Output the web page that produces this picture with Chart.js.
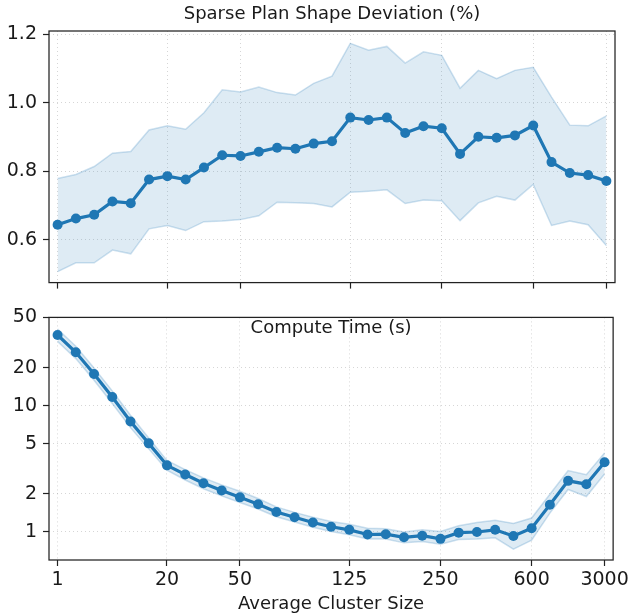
<!DOCTYPE html>
<html>
<head>
<meta charset="utf-8">
<script src="https://cdn.jsdelivr.net/npm/chart.js@4.4.1/dist/chart.umd.min.js"></script>
<style>
	html, body { margin:0; padding:0; background:#fff; }
	#wrap { position:relative; width:632px; height:615px; }
	#wrap canvas { position:absolute; left:0; }
</style>
</head>
<body>
<div id="wrap">
	<canvas id="dev_graph" width="632" height="300" style="top:0"></canvas>
	<canvas id="time_graph" width="632" height="315" style="top:300px"></canvas>
</div>
<script>
// x positions are just the index of each cluster size, labelled only at some of them
const tickIndex = [0, 6, 10, 16, 21, 26, 30]
const tickLabels = ['1', '20', '50', '125', '250', '600', '3000']

// Sparse Plan Shape Deviation (%)
const devMean = [0.644, 0.662, 0.673, 0.712, 0.707, 0.776, 0.786, 0.776, 0.811, 0.847, 0.845, 0.857, 0.869, 0.866, 0.881, 0.888,
	0.957, 0.950, 0.957, 0.912, 0.932, 0.926, 0.851, 0.901, 0.898, 0.905, 0.934, 0.827, 0.795, 0.789, 0.772]
const devLow = [0.507, 0.533, 0.533, 0.570, 0.559, 0.632, 0.642, 0.627, 0.653, 0.655, 0.659, 0.670, 0.710, 0.708, 0.706, 0.696,
	0.739, 0.742, 0.746, 0.706, 0.716, 0.714, 0.656, 0.708, 0.727, 0.716, 0.762, 0.642, 0.655, 0.644, 0.583]
const devHigh = [0.779, 0.791, 0.814, 0.853, 0.858, 0.921, 0.933, 0.923, 0.971, 1.038, 1.032, 1.046, 1.030, 1.023, 1.057, 1.078,
	1.174, 1.154, 1.165, 1.116, 1.149, 1.139, 1.043, 1.095, 1.071, 1.095, 1.104, 1.017, 0.935, 0.933, 0.962]
const devTicks = [0.6, 0.8, 1.0, 1.2]

// Compute Time (s)
const timeMean = [36.3, 26.5, 17.8, 11.7, 7.5, 5.03, 3.37, 2.85, 2.43, 2.13, 1.88, 1.66, 1.44, 1.31, 1.19, 1.10,
	1.04, 0.955, 0.96, 0.907, 0.934, 0.882, 0.988, 1.0, 1.04, 0.929, 1.07, 1.645, 2.54, 2.39, 3.57]
const timeLow = [32.2, 23.6, 15.9, 10.4, 6.7, 4.55, 3.08, 2.58, 2.20, 1.93, 1.71, 1.52, 1.32, 1.20, 1.09, 1.01,
	0.95, 0.88, 0.88, 0.82, 0.84, 0.80, 0.87, 0.88, 0.90, 0.73, 0.86, 1.41, 2.17, 1.91, 2.88]
const timeHigh = [40.5, 29.6, 19.9, 13.1, 8.4, 5.55, 3.68, 3.12, 2.68, 2.36, 2.10, 1.84, 1.58, 1.43, 1.31, 1.21,
	1.15, 1.07, 1.06, 1.0, 1.04, 1.01, 1.12, 1.19, 1.24, 1.17, 1.29, 1.99, 3.06, 2.84, 4.23]
const timeTicks = [1, 2, 5, 10, 20, 50]


const BLUE = '#1f77b4'
const TEXT = '#1a1a1a'
const FONT = "'DejaVu Sans', sans-serif"

const toPoints = arr => arr.map((y, x) => ({ x, y }))

function makeDatasets(mean, low, high){
	return [
		{ data:toPoints(mean), borderColor:BLUE, backgroundColor:BLUE, borderWidth:3.2, pointRadius:5, pointBorderWidth:0, pointBackgroundColor:BLUE, tension:0, fill:false },
		{ data:toPoints(low), borderColor:'rgba(31,119,180,0.22)', borderWidth:1.5, pointRadius:0, tension:0, fill:false },
		{ data:toPoints(high), borderColor:'rgba(31,119,180,0.22)', borderWidth:1.5, pointRadius:0, tension:0, fill:'-1', backgroundColor:'rgba(31,119,180,0.15)' }
	]
}

const framePlugin = {
	id:'frame',
	afterDraw(chart){
		const { ctx, chartArea:a } = chart
		ctx.save()
		ctx.strokeStyle = '#222'
		ctx.lineWidth = 1.25
		ctx.strokeRect(a.left, a.top, a.right - a.left, a.bottom - a.top)
		ctx.restore()
	}
}

// plain text labels (titles), y is the baseline in canvas pixels
const textPlugin = {
	id:'texts',
	afterDraw(chart, args, opts){
		const { ctx, chartArea:a } = chart
		const cx = (a.left + a.right) / 2
		ctx.save()
		ctx.fillStyle = TEXT
		ctx.textAlign = 'center'
		ctx.textBaseline = 'alphabetic'
		ctx.font = `18px ${FONT}`
		for(const item of opts.items || []) ctx.fillText(item.text, cx, item.y)
		ctx.restore()
	}
}

function xScale(showLabels){
	return {
		type:'linear',
		min:-0.47,
		max:30.47,
		afterBuildTicks: scale => { scale.ticks = tickIndex.map(value => ({ value })) },
		afterFit: scale => { scale.height = showLabels ? 55 : 11 },
		grid:{ color:'rgba(0,0,0,0.16)', lineWidth:1, drawTicks:true, tickLength:6, tickColor:'#222', tickWidth:1.2 },
		border:{ display:false, dash:[1, 3] },
		ticks:{
			display:showLabels,
			autoSkip:false,
			maxRotation:0,
			padding:3,
			color:TEXT,
			font:{ family:FONT, size:19 },
			callback: value => tickLabels[tickIndex.indexOf(value)] || ''
		}
	}
}

function yGrid(){
	return { color:'rgba(0,0,0,0.16)', lineWidth:1, drawTicks:true, tickLength:6, tickColor:'#222', tickWidth:1.2 }
}


new Chart(document.getElementById('dev_graph'), {
	type:'line',
	data:{ datasets:makeDatasets(devMean, devLow, devHigh) },
	plugins:[framePlugin, textPlugin],
	options:{
		responsive:false,
		animation:false,
		layout:{ padding:{ top:31, right:17, left:0, bottom:0 } },
		plugins:{
			legend:{ display:false },
			tooltip:{ enabled:false },
			texts:{ items:[{ text:'Sparse Plan Shape Deviation (%)', y:19 }] }
		},
		scales:{
			x:xScale(false),
			y:{
				type:'linear',
				min:0.475,
				max:1.21,
				afterBuildTicks: scale => { scale.ticks = devTicks.map(value => ({ value })) },
				afterFit: scale => { scale.width = 49 },
				grid:yGrid(),
				border:{ display:false, dash:[1, 3] },
				ticks:{ padding:6, color:TEXT, font:{ family:FONT, size:19 }, callback: value => value.toFixed(1) }
			}
		}
	}
})

new Chart(document.getElementById('time_graph'), {
	type:'line',
	data:{ datasets:makeDatasets(timeMean, timeLow, timeHigh) },
	plugins:[framePlugin, textPlugin],
	options:{
		responsive:false,
		animation:false,
		layout:{ padding:{ top:2, right:17, left:0, bottom:0 } },
		plugins:{
			legend:{ display:false },
			tooltip:{ enabled:false },
			texts:{ items:[{ text:'Compute Time (s)', y:33 }, { text:'Average Cluster Size', y:309 }] }
		},
		scales:{
			x:xScale(true),
			y:{
				type:'logarithmic',
				min:0.6,
				max:50,
				afterBuildTicks: scale => { scale.ticks = timeTicks.map(value => ({ value })) },
				afterFit: scale => { scale.width = 49 },
				grid:yGrid(),
				border:{ display:false, dash:[1, 3] },
				ticks:{ padding:6, color:TEXT, font:{ family:FONT, size:19 }, callback: value => String(value) }
			}
		}
	}
})
</script>
</body>
</html>
